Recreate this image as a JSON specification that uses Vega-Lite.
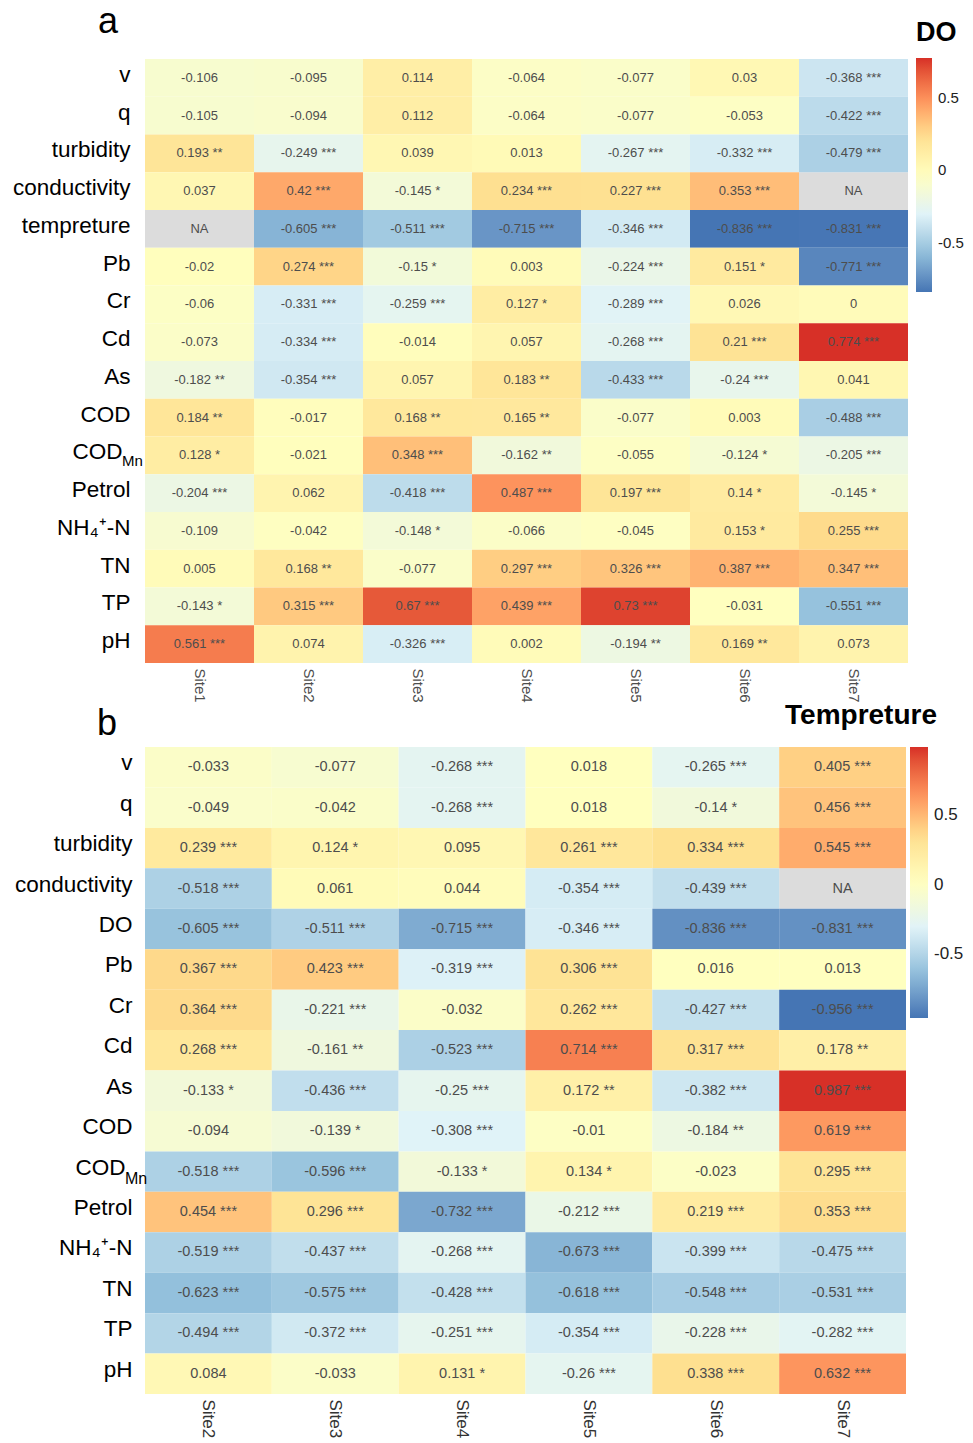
{
  "$schema": "https://vega.github.io/schema/vega-lite/v6.json",
  "padding": {"left": 12, "top": 4, "right": 0, "bottom": 0},
  "config": {"font": "Liberation Sans", "view": {"stroke": null}},
  "resolve": {"scale": {"color": "independent"}, "legend": {"color": "independent"}},
  "columns": 1,
  "align": "none",
  "spacing": -1,
  "datasets": {
    "a": [
      {"param":"v","site":"Site1","r":-0.106,"sig":""},{"param":"v","site":"Site2","r":-0.095,"sig":""},{"param":"v","site":"Site3","r":0.114,"sig":""},{"param":"v","site":"Site4","r":-0.064,"sig":""},{"param":"v","site":"Site5","r":-0.077,"sig":""},{"param":"v","site":"Site6","r":0.03,"sig":""},{"param":"v","site":"Site7","r":-0.368,"sig":"***"},
      {"param":"q","site":"Site1","r":-0.105,"sig":""},{"param":"q","site":"Site2","r":-0.094,"sig":""},{"param":"q","site":"Site3","r":0.112,"sig":""},{"param":"q","site":"Site4","r":-0.064,"sig":""},{"param":"q","site":"Site5","r":-0.077,"sig":""},{"param":"q","site":"Site6","r":-0.053,"sig":""},{"param":"q","site":"Site7","r":-0.422,"sig":"***"},
      {"param":"turbidity","site":"Site1","r":0.193,"sig":"**"},{"param":"turbidity","site":"Site2","r":-0.249,"sig":"***"},{"param":"turbidity","site":"Site3","r":0.039,"sig":""},{"param":"turbidity","site":"Site4","r":0.013,"sig":""},{"param":"turbidity","site":"Site5","r":-0.267,"sig":"***"},{"param":"turbidity","site":"Site6","r":-0.332,"sig":"***"},{"param":"turbidity","site":"Site7","r":-0.479,"sig":"***"},
      {"param":"conductivity","site":"Site1","r":0.037,"sig":""},{"param":"conductivity","site":"Site2","r":0.42,"sig":"***"},{"param":"conductivity","site":"Site3","r":-0.145,"sig":"*"},{"param":"conductivity","site":"Site4","r":0.234,"sig":"***"},{"param":"conductivity","site":"Site5","r":0.227,"sig":"***"},{"param":"conductivity","site":"Site6","r":0.353,"sig":"***"},{"param":"conductivity","site":"Site7","r":null,"sig":""},
      {"param":"tempreture","site":"Site1","r":null,"sig":""},{"param":"tempreture","site":"Site2","r":-0.605,"sig":"***"},{"param":"tempreture","site":"Site3","r":-0.511,"sig":"***"},{"param":"tempreture","site":"Site4","r":-0.715,"sig":"***"},{"param":"tempreture","site":"Site5","r":-0.346,"sig":"***"},{"param":"tempreture","site":"Site6","r":-0.836,"sig":"***"},{"param":"tempreture","site":"Site7","r":-0.831,"sig":"***"},
      {"param":"Pb","site":"Site1","r":-0.02,"sig":""},{"param":"Pb","site":"Site2","r":0.274,"sig":"***"},{"param":"Pb","site":"Site3","r":-0.15,"sig":"*"},{"param":"Pb","site":"Site4","r":0.003,"sig":""},{"param":"Pb","site":"Site5","r":-0.224,"sig":"***"},{"param":"Pb","site":"Site6","r":0.151,"sig":"*"},{"param":"Pb","site":"Site7","r":-0.771,"sig":"***"},
      {"param":"Cr","site":"Site1","r":-0.06,"sig":""},{"param":"Cr","site":"Site2","r":-0.331,"sig":"***"},{"param":"Cr","site":"Site3","r":-0.259,"sig":"***"},{"param":"Cr","site":"Site4","r":0.127,"sig":"*"},{"param":"Cr","site":"Site5","r":-0.289,"sig":"***"},{"param":"Cr","site":"Site6","r":0.026,"sig":""},{"param":"Cr","site":"Site7","r":0,"sig":""},
      {"param":"Cd","site":"Site1","r":-0.073,"sig":""},{"param":"Cd","site":"Site2","r":-0.334,"sig":"***"},{"param":"Cd","site":"Site3","r":-0.014,"sig":""},{"param":"Cd","site":"Site4","r":0.057,"sig":""},{"param":"Cd","site":"Site5","r":-0.268,"sig":"***"},{"param":"Cd","site":"Site6","r":0.21,"sig":"***"},{"param":"Cd","site":"Site7","r":0.774,"sig":"***"},
      {"param":"As","site":"Site1","r":-0.182,"sig":"**"},{"param":"As","site":"Site2","r":-0.354,"sig":"***"},{"param":"As","site":"Site3","r":0.057,"sig":""},{"param":"As","site":"Site4","r":0.183,"sig":"**"},{"param":"As","site":"Site5","r":-0.433,"sig":"***"},{"param":"As","site":"Site6","r":-0.24,"sig":"***"},{"param":"As","site":"Site7","r":0.041,"sig":""},
      {"param":"COD","site":"Site1","r":0.184,"sig":"**"},{"param":"COD","site":"Site2","r":-0.017,"sig":""},{"param":"COD","site":"Site3","r":0.168,"sig":"**"},{"param":"COD","site":"Site4","r":0.165,"sig":"**"},{"param":"COD","site":"Site5","r":-0.077,"sig":""},{"param":"COD","site":"Site6","r":0.003,"sig":""},{"param":"COD","site":"Site7","r":-0.488,"sig":"***"},
      {"param":"CODMn","site":"Site1","r":0.128,"sig":"*"},{"param":"CODMn","site":"Site2","r":-0.021,"sig":""},{"param":"CODMn","site":"Site3","r":0.348,"sig":"***"},{"param":"CODMn","site":"Site4","r":-0.162,"sig":"**"},{"param":"CODMn","site":"Site5","r":-0.055,"sig":""},{"param":"CODMn","site":"Site6","r":-0.124,"sig":"*"},{"param":"CODMn","site":"Site7","r":-0.205,"sig":"***"},
      {"param":"Petrol","site":"Site1","r":-0.204,"sig":"***"},{"param":"Petrol","site":"Site2","r":0.062,"sig":""},{"param":"Petrol","site":"Site3","r":-0.418,"sig":"***"},{"param":"Petrol","site":"Site4","r":0.487,"sig":"***"},{"param":"Petrol","site":"Site5","r":0.197,"sig":"***"},{"param":"Petrol","site":"Site6","r":0.14,"sig":"*"},{"param":"Petrol","site":"Site7","r":-0.145,"sig":"*"},
      {"param":"NH4+-N","site":"Site1","r":-0.109,"sig":""},{"param":"NH4+-N","site":"Site2","r":-0.042,"sig":""},{"param":"NH4+-N","site":"Site3","r":-0.148,"sig":"*"},{"param":"NH4+-N","site":"Site4","r":-0.066,"sig":""},{"param":"NH4+-N","site":"Site5","r":-0.045,"sig":""},{"param":"NH4+-N","site":"Site6","r":0.153,"sig":"*"},{"param":"NH4+-N","site":"Site7","r":0.255,"sig":"***"},
      {"param":"TN","site":"Site1","r":0.005,"sig":""},{"param":"TN","site":"Site2","r":0.168,"sig":"**"},{"param":"TN","site":"Site3","r":-0.077,"sig":""},{"param":"TN","site":"Site4","r":0.297,"sig":"***"},{"param":"TN","site":"Site5","r":0.326,"sig":"***"},{"param":"TN","site":"Site6","r":0.387,"sig":"***"},{"param":"TN","site":"Site7","r":0.347,"sig":"***"},
      {"param":"TP","site":"Site1","r":-0.143,"sig":"*"},{"param":"TP","site":"Site2","r":0.315,"sig":"***"},{"param":"TP","site":"Site3","r":0.67,"sig":"***"},{"param":"TP","site":"Site4","r":0.439,"sig":"***"},{"param":"TP","site":"Site5","r":0.73,"sig":"***"},{"param":"TP","site":"Site6","r":-0.031,"sig":""},{"param":"TP","site":"Site7","r":-0.551,"sig":"***"},
      {"param":"pH","site":"Site1","r":0.561,"sig":"***"},{"param":"pH","site":"Site2","r":0.074,"sig":""},{"param":"pH","site":"Site3","r":-0.326,"sig":"***"},{"param":"pH","site":"Site4","r":0.002,"sig":""},{"param":"pH","site":"Site5","r":-0.194,"sig":"**"},{"param":"pH","site":"Site6","r":0.169,"sig":"**"},{"param":"pH","site":"Site7","r":0.073,"sig":""}
    ],
    "b": [
      {"param":"v","site":"Site2","r":-0.033,"sig":""},{"param":"v","site":"Site3","r":-0.077,"sig":""},{"param":"v","site":"Site4","r":-0.268,"sig":"***"},{"param":"v","site":"Site5","r":0.018,"sig":""},{"param":"v","site":"Site6","r":-0.265,"sig":"***"},{"param":"v","site":"Site7","r":0.405,"sig":"***"},
      {"param":"q","site":"Site2","r":-0.049,"sig":""},{"param":"q","site":"Site3","r":-0.042,"sig":""},{"param":"q","site":"Site4","r":-0.268,"sig":"***"},{"param":"q","site":"Site5","r":0.018,"sig":""},{"param":"q","site":"Site6","r":-0.14,"sig":"*"},{"param":"q","site":"Site7","r":0.456,"sig":"***"},
      {"param":"turbidity","site":"Site2","r":0.239,"sig":"***"},{"param":"turbidity","site":"Site3","r":0.124,"sig":"*"},{"param":"turbidity","site":"Site4","r":0.095,"sig":""},{"param":"turbidity","site":"Site5","r":0.261,"sig":"***"},{"param":"turbidity","site":"Site6","r":0.334,"sig":"***"},{"param":"turbidity","site":"Site7","r":0.545,"sig":"***"},
      {"param":"conductivity","site":"Site2","r":-0.518,"sig":"***"},{"param":"conductivity","site":"Site3","r":0.061,"sig":""},{"param":"conductivity","site":"Site4","r":0.044,"sig":""},{"param":"conductivity","site":"Site5","r":-0.354,"sig":"***"},{"param":"conductivity","site":"Site6","r":-0.439,"sig":"***"},{"param":"conductivity","site":"Site7","r":null,"sig":""},
      {"param":"DO","site":"Site2","r":-0.605,"sig":"***"},{"param":"DO","site":"Site3","r":-0.511,"sig":"***"},{"param":"DO","site":"Site4","r":-0.715,"sig":"***"},{"param":"DO","site":"Site5","r":-0.346,"sig":"***"},{"param":"DO","site":"Site6","r":-0.836,"sig":"***"},{"param":"DO","site":"Site7","r":-0.831,"sig":"***"},
      {"param":"Pb","site":"Site2","r":0.367,"sig":"***"},{"param":"Pb","site":"Site3","r":0.423,"sig":"***"},{"param":"Pb","site":"Site4","r":-0.319,"sig":"***"},{"param":"Pb","site":"Site5","r":0.306,"sig":"***"},{"param":"Pb","site":"Site6","r":0.016,"sig":""},{"param":"Pb","site":"Site7","r":0.013,"sig":""},
      {"param":"Cr","site":"Site2","r":0.364,"sig":"***"},{"param":"Cr","site":"Site3","r":-0.221,"sig":"***"},{"param":"Cr","site":"Site4","r":-0.032,"sig":""},{"param":"Cr","site":"Site5","r":0.262,"sig":"***"},{"param":"Cr","site":"Site6","r":-0.427,"sig":"***"},{"param":"Cr","site":"Site7","r":-0.956,"sig":"***"},
      {"param":"Cd","site":"Site2","r":0.268,"sig":"***"},{"param":"Cd","site":"Site3","r":-0.161,"sig":"**"},{"param":"Cd","site":"Site4","r":-0.523,"sig":"***"},{"param":"Cd","site":"Site5","r":0.714,"sig":"***"},{"param":"Cd","site":"Site6","r":0.317,"sig":"***"},{"param":"Cd","site":"Site7","r":0.178,"sig":"**"},
      {"param":"As","site":"Site2","r":-0.133,"sig":"*"},{"param":"As","site":"Site3","r":-0.436,"sig":"***"},{"param":"As","site":"Site4","r":-0.25,"sig":"***"},{"param":"As","site":"Site5","r":0.172,"sig":"**"},{"param":"As","site":"Site6","r":-0.382,"sig":"***"},{"param":"As","site":"Site7","r":0.987,"sig":"***"},
      {"param":"COD","site":"Site2","r":-0.094,"sig":""},{"param":"COD","site":"Site3","r":-0.139,"sig":"*"},{"param":"COD","site":"Site4","r":-0.308,"sig":"***"},{"param":"COD","site":"Site5","r":-0.01,"sig":""},{"param":"COD","site":"Site6","r":-0.184,"sig":"**"},{"param":"COD","site":"Site7","r":0.619,"sig":"***"},
      {"param":"CODMn","site":"Site2","r":-0.518,"sig":"***"},{"param":"CODMn","site":"Site3","r":-0.596,"sig":"***"},{"param":"CODMn","site":"Site4","r":-0.133,"sig":"*"},{"param":"CODMn","site":"Site5","r":0.134,"sig":"*"},{"param":"CODMn","site":"Site6","r":-0.023,"sig":""},{"param":"CODMn","site":"Site7","r":0.295,"sig":"***"},
      {"param":"Petrol","site":"Site2","r":0.454,"sig":"***"},{"param":"Petrol","site":"Site3","r":0.296,"sig":"***"},{"param":"Petrol","site":"Site4","r":-0.732,"sig":"***"},{"param":"Petrol","site":"Site5","r":-0.212,"sig":"***"},{"param":"Petrol","site":"Site6","r":0.219,"sig":"***"},{"param":"Petrol","site":"Site7","r":0.353,"sig":"***"},
      {"param":"NH4+-N","site":"Site2","r":-0.519,"sig":"***"},{"param":"NH4+-N","site":"Site3","r":-0.437,"sig":"***"},{"param":"NH4+-N","site":"Site4","r":-0.268,"sig":"***"},{"param":"NH4+-N","site":"Site5","r":-0.673,"sig":"***"},{"param":"NH4+-N","site":"Site6","r":-0.399,"sig":"***"},{"param":"NH4+-N","site":"Site7","r":-0.475,"sig":"***"},
      {"param":"TN","site":"Site2","r":-0.623,"sig":"***"},{"param":"TN","site":"Site3","r":-0.575,"sig":"***"},{"param":"TN","site":"Site4","r":-0.428,"sig":"***"},{"param":"TN","site":"Site5","r":-0.618,"sig":"***"},{"param":"TN","site":"Site6","r":-0.548,"sig":"***"},{"param":"TN","site":"Site7","r":-0.531,"sig":"***"},
      {"param":"TP","site":"Site2","r":-0.494,"sig":"***"},{"param":"TP","site":"Site3","r":-0.372,"sig":"***"},{"param":"TP","site":"Site4","r":-0.251,"sig":"***"},{"param":"TP","site":"Site5","r":-0.354,"sig":"***"},{"param":"TP","site":"Site6","r":-0.228,"sig":"***"},{"param":"TP","site":"Site7","r":-0.282,"sig":"***"},
      {"param":"pH","site":"Site2","r":0.084,"sig":""},{"param":"pH","site":"Site3","r":-0.033,"sig":""},{"param":"pH","site":"Site4","r":0.131,"sig":"*"},{"param":"pH","site":"Site5","r":-0.26,"sig":"***"},{"param":"pH","site":"Site6","r":0.338,"sig":"***"},{"param":"pH","site":"Site7","r":0.632,"sig":"***"}
    ]
  },
  "concat": [
    {
      "title": {"text": "a", "anchor": "start", "frame": "group", "dx": -47, "fontSize": 36, "fontWeight": "normal", "color": "#000", "offset": -21},
      "width": 763,
      "height": 604,
      "data": {"name": "a"},
      "transform": [{"calculate": "datum.r === null ? 'NA' : (datum.sig ? datum.r + ' ' + datum.sig : '' + datum.r)", "as": "label"}],
      "encoding": {
        "x": {"field": "site", "type": "nominal", "scale": {"paddingInner": 0, "paddingOuter": 0}, "axis": {"title": null, "labelAngle": 90, "ticks": false, "domain": false, "labelFontSize": 15, "labelColor": "#4d4d4d", "labelPadding": 5}},
        "y": {"field": "param", "type": "nominal", "sort": ["v","q","turbidity","conductivity","tempreture","Pb","Cr","Cd","As","COD","CODMn","Petrol","NH4+-N","TN","TP","pH"], "scale": {"paddingInner": 0, "paddingOuter": 0}, "axis": {"title": null, "ticks": false, "domain": false, "labelFontSize": 22.5, "labelColor": "#000", "labelPadding": {"condition": {"test": "datum.value === 'CODMn'", "value": 23}, "value": 15}, "labelOffset": -3, "labelExpr": "datum.value === 'CODMn' ? 'COD' : datum.value === 'NH4+-N' ? 'NH\u2084\u207a-N' : datum.value"}}
      },
      "layer": [
        {"transform": [{"filter": "datum.r === null"}], "mark": {"type": "rect", "fill": "#dcdcdc"}},
        {"transform": [{"filter": "datum.r !== null"}], "mark": {"type": "rect"},
         "encoding": {"color": {"field": "r", "type": "quantitative",
           "scale": {"range": ["#4575b4","#91bfdb","#e0f3f8","#ffffbf","#fee090","#fc8d59","#d73027"], "interpolate": "lab", "nice": false, "zero": false},
           "legend": {"title": "DO", "orient": "none", "legendX": 771, "legendY": -39, "direction": "vertical", "gradientLength": 234, "gradientThickness": 16, "gradientStrokeWidth": 0, "values": [-0.5, 0, 0.5], "labelExpr": "'' + datum.value", "labelFontSize": 15, "labelColor": "#222", "labelOffset": 6, "titleFontSize": 27, "titleFontWeight": "bold", "titleColor": "#000", "titlePadding": 11, "titleAnchor": "start", "titleAlign": "left"}}}},
        {"mark": {"type": "text", "fontSize": 13, "color": "#4d4d4d"}, "encoding": {"text": {"field": "label"}}},
        {"transform": [{"filter": "datum.param === 'CODMn' && datum.site === 'Site1'"}],
         "mark": {"type": "text", "align": "left", "baseline": "alphabetic", "dx": -23, "dy": 11, "fontSize": 15, "color": "#000"},
         "encoding": {"x": {"field": "site", "type": "nominal", "bandPosition": 0}, "text": {"value": "Mn"}}}
      ]
    },
    {
      "title": {"text": "b", "anchor": "start", "frame": "group", "dx": -48, "fontSize": 36, "fontWeight": "normal", "color": "#000", "offset": -41},
      "width": 761,
      "height": 647,
      "data": {"name": "b"},
      "transform": [{"calculate": "datum.r === null ? 'NA' : (datum.sig ? datum.r + ' ' + datum.sig : '' + datum.r)", "as": "label"}],
      "encoding": {
        "x": {"field": "site", "type": "nominal", "scale": {"paddingInner": 0, "paddingOuter": 0}, "axis": {"title": null, "labelAngle": 90, "ticks": false, "domain": false, "labelFontSize": 17, "labelColor": "#333", "labelPadding": 5}},
        "y": {"field": "param", "type": "nominal", "sort": ["v","q","turbidity","conductivity","DO","Pb","Cr","Cd","As","COD","CODMn","Petrol","NH4+-N","TN","TP","pH"], "scale": {"paddingInner": 0, "paddingOuter": 0}, "axis": {"title": null, "ticks": false, "domain": false, "labelFontSize": 22.5, "labelColor": "#000", "labelPadding": {"condition": {"test": "datum.value === 'CODMn'", "value": 20}, "value": 13}, "labelOffset": -4, "labelExpr": "datum.value === 'CODMn' ? 'COD' : datum.value === 'NH4+-N' ? 'NH\u2084\u207a-N' : datum.value"}}
      },
      "layer": [
        {"transform": [{"filter": "datum.r === null"}], "mark": {"type": "rect", "fill": "#dcdcdc"}},
        {"transform": [{"filter": "datum.r !== null"}], "mark": {"type": "rect"},
         "encoding": {"color": {"field": "r", "type": "quantitative",
           "scale": {"range": ["#4575b4","#91bfdb","#e0f3f8","#ffffbf","#fee090","#fc8d59","#d73027"], "interpolate": "lab", "nice": false, "zero": false},
           "legend": {"title": "Tempreture", "orient": "none", "legendX": 640, "legendY": -45, "direction": "vertical", "gradientLength": 271, "gradientThickness": 18, "gradientStrokeWidth": 0, "values": [-0.5, 0, 0.5], "labelExpr": "'' + datum.value", "labelFontSize": 17, "labelColor": "#222", "labelOffset": 6, "titleFontSize": 28, "titleFontWeight": "bold", "titleColor": "#000", "titlePadding": 17, "titleAnchor": "middle", "titleAlign": "right"}}}},
        {"mark": {"type": "text", "fontSize": 14.5, "color": "#4d4d4d"}, "encoding": {"text": {"field": "label"}}},
        {"transform": [{"filter": "datum.param === 'CODMn' && datum.site === 'Site2'"}],
         "mark": {"type": "text", "align": "left", "baseline": "alphabetic", "dx": -20, "dy": 12, "fontSize": 16, "color": "#000"},
         "encoding": {"x": {"field": "site", "type": "nominal", "bandPosition": 0}, "text": {"value": "Mn"}}}
      ]
    }
  ]
}
